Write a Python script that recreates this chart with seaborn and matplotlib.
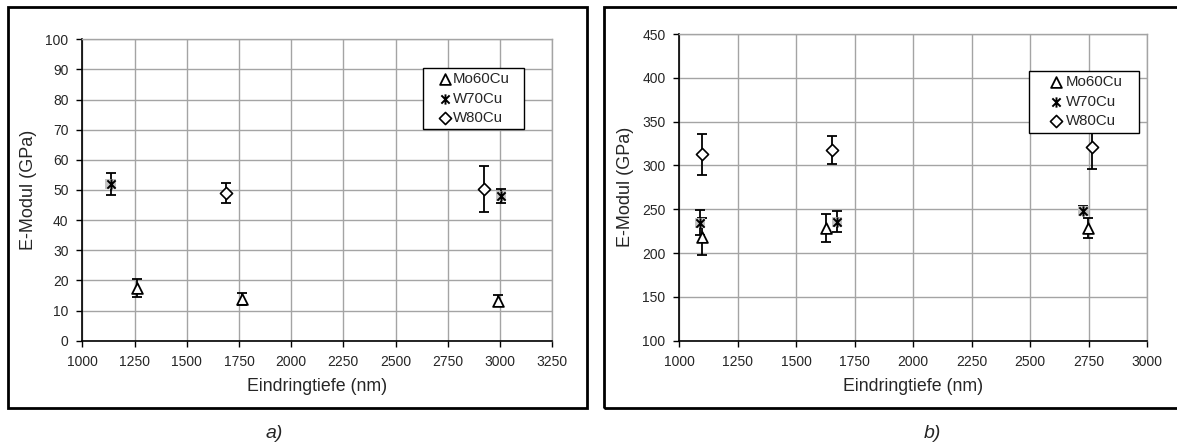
import numpy as np
import pandas as pd
import seaborn as sns
import matplotlib.pyplot as plt
from matplotlib.path import Path
from matplotlib.patches import Rectangle

# Panel a) values (depth in nm, modulus in GPa, symmetric error)
a_mo_x = [1260, 1765, 2990]
a_mo_y = [17.5, 13.8, 13.2]
a_mo_e = [3.0, 1.9, 1.8]
a_w70_x = [1135, 3005]
a_w70_y = [52.0, 48.0]
a_w70_e = [3.7, 2.4]
a_w80_x = [1688, 2925]
a_w80_y = [49.1, 50.4]
a_w80_e = [3.3, 7.6]

# Panel b) values
b_mo_x = [1097, 1627, 2747]
b_mo_y = [218.7, 228.3, 228.4]
b_mo_e = [21.0, 15.8, 11.5]
b_w70_x = [1088, 1675, 2728]
b_w70_y = [234.5, 235.8, 248.3]
b_w70_e = [14.2, 11.8, 5.0]
b_w80_x = [1096, 1651, 2763]
b_w80_y = [312.6, 317.8, 321.4]
b_w80_e = [23.2, 16.2, 25.9]

series_names = ["Mo60Cu", "W70Cu", "W80Cu"]
a_xticks = [1000, 1250, 1500, 1750, 2000, 2250, 2500, 2750, 3000, 3250]
a_yticks = [0, 10, 20, 30, 40, 50, 60, 70, 80, 90, 100]
b_xticks = [1000, 1250, 1500, 1750, 2000, 2250, 2500, 2750, 3000]
b_yticks = [100, 150, 200, 250, 300, 350, 400, 450]

sns.set_theme(style="whitegrid")
plt.rcParams["font.family"] = ["Liberation Sans", "DejaVu Sans"]

# Star marker: vertical stroke plus an X
star = Path([(0, -1), (0, 1), (-0.8, -0.8), (0.8, 0.8), (-0.8, 0.8), (0.8, -0.8)],
            [Path.MOVETO, Path.LINETO, Path.MOVETO, Path.LINETO, Path.MOVETO, Path.LINETO])

fig = plt.figure(figsize=(11.77, 4.48), dpi=100)
ax_a = fig.add_axes([0.0700, 0.2395, 0.3991, 0.6728])
ax_b = fig.add_axes([0.5773, 0.2395, 0.3972, 0.6846])

# Panel frames and captions
fig.patches.append(Rectangle((0.0065, 0.0893), 0.4920, 0.8944, transform=fig.transFigure,
                             fill=False, edgecolor="black", linewidth=2.0))
fig.patches.append(Rectangle((0.5135, 0.0893), 0.5200, 0.8944, transform=fig.transFigure,
                             fill=False, edgecolor="black", linewidth=2.0))
fig.text(0.2330, 0.033, "a)", fontsize=14, style="italic", ha="center", va="center")
fig.text(0.7920, 0.033, "b)", fontsize=14, style="italic", ha="center", va="center")


def draw_panel(ax, data, xticks, yticks, legend_box, handlelength, handletextpad):
    (mo_x, mo_y, mo_e), (w70_x, w70_y, w70_e), (w80_x, w80_y, w80_e) = data
    for xs, ys, es in data:
        ax.errorbar(xs, ys, yerr=es, fmt="none", ecolor="black", elinewidth=1.3,
                    capsize=3.4, capthick=1.3, zorder=3)
    df_mo = pd.DataFrame({"x": mo_x, "y": mo_y})
    df_w70 = pd.DataFrame({"x": w70_x, "y": w70_y})
    df_w80 = pd.DataFrame({"x": w80_x, "y": w80_y})
    sns.scatterplot(data=df_mo, x="x", y="y", ax=ax, marker="^", s=60,
                    facecolor="white", edgecolor="black", linewidth=1.3,
                    label=series_names[0], zorder=4)
    sns.scatterplot(data=df_w70, x="x", y="y", ax=ax, marker="s", s=55,
                    color="#c4c4c4", edgecolor="none", linewidth=0, zorder=4)
    sns.scatterplot(data=df_w70, x="x", y="y", ax=ax, marker=star, s=55,
                    color="black", edgecolor="black", linewidth=1.4,
                    label=series_names[1], zorder=5)
    sns.scatterplot(data=df_w80, x="x", y="y", ax=ax, marker="D", s=38,
                    facecolor="white", edgecolor="black", linewidth=1.2,
                    label=series_names[2], zorder=4)

    ax.set_xlim(xticks[0], xticks[-1])
    ax.set_ylim(yticks[0], yticks[-1])
    ax.set_xticks(xticks)
    ax.set_yticks(yticks)
    ax.grid(True, color="#a4a4a4", linewidth=1.0)
    ax.set_axisbelow(True)
    for side in ("top", "right"):
        ax.spines[side].set_color("#a4a4a4")
        ax.spines[side].set_linewidth(1.0)
    for side in ("left", "bottom"):
        ax.spines[side].set_color("black")
        ax.spines[side].set_linewidth(1.2)
    ax.tick_params(axis="both", which="major", labelsize=10, length=4, width=1.0,
                   direction="out", color="black", left=True, bottom=True, pad=6)
    ax.set_xlabel("Eindringtiefe (nm)", fontsize=12.8, labelpad=7)
    ax.set_ylabel("E-Modul (GPa)", fontsize=13, labelpad=6)

    leg = ax.legend(loc="upper left", bbox_to_anchor=legend_box, mode="expand",
                    frameon=True, fancybox=False, framealpha=1, edgecolor="black",
                    fontsize=10.8, handlelength=handlelength,
                    handletextpad=handletextpad, borderpad=0.3,
                    labelspacing=0.36, borderaxespad=0)
    leg.get_frame().set_linewidth(1.0)


draw_panel(ax_a, [(a_mo_x, a_mo_y, a_mo_e), (a_w70_x, a_w70_y, a_w70_e),
                  (a_w80_x, a_w80_y, a_w80_e)], a_xticks, a_yticks,
           (0.726, 0.706, 0.215, 0.2), 2.3, -0.62)
draw_panel(ax_b, [(b_mo_x, b_mo_y, b_mo_e), (b_w70_x, b_w70_y, b_w70_e),
                  (b_w80_x, b_w80_y, b_w80_e)], b_xticks, b_yticks,
           (0.7476, 0.680, 0.2353, 0.2), 3.0, -0.87)

fig.savefig("out.png", dpi=100)
